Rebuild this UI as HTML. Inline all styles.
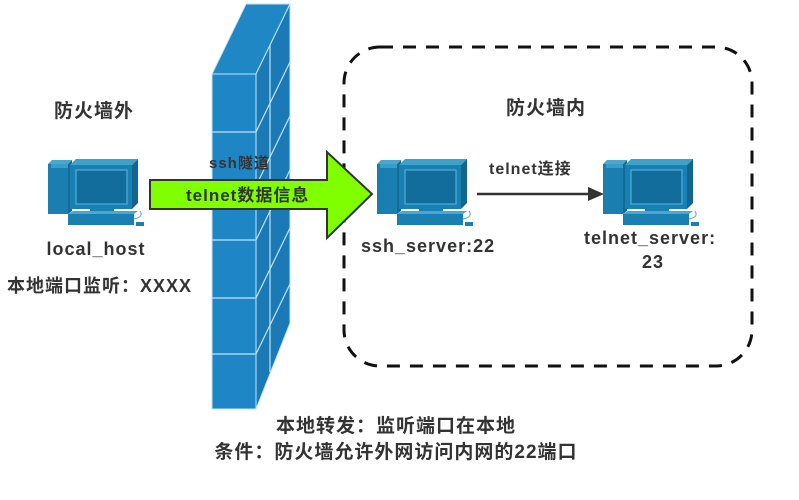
<!DOCTYPE html>
<html><head><meta charset="utf-8"><style>
body{margin:0;background:#fff;width:799px;height:500px;overflow:hidden}
svg{display:block}
text{font-family:"Liberation Sans","Noto Sans CJK SC",sans-serif;font-weight:bold;fill:#333;letter-spacing:1px}
</style></head><body>
<svg width="799" height="500" viewBox="0 0 799 500">
<defs>
<g id="pc">
  <rect x="0" y="5" width="20" height="50" fill="#1a7fb0"/>
  <rect x="3" y="5" width="17" height="4" fill="#3a9cc8"/>
  <polygon points="0,5 4,1 24,1 20,5" fill="#4aa8d0"/>
  <polygon points="20,5 24,1 24,52 20,55" fill="#126a96"/>
  <rect x="22" y="6" width="62" height="44" fill="#1a80b2"/>
  <polygon points="22,6 28,0 90,0 84,6" fill="#3ca2cc"/>
  <polygon points="84,6 90,0 90,44 84,50" fill="#11658f"/>
  <rect x="28" y="11" width="51" height="34" fill="#136d9c" stroke="#4cb0d8" stroke-width="1.2"/>
  <rect x="42" y="50" width="24" height="5" fill="#1a7fb0"/>
  <rect x="20" y="55" width="66" height="11" fill="#1a80b2"/>
  <polygon points="20,55 25,52 90,52 86,55" fill="#4aa8d0"/>
  <path d="M86,60 Q96,58 92,52" stroke="#4aa8d0" fill="none" stroke-width="1"/>
  <rect x="88" y="63" width="8" height="4" fill="#1a80b2"/>
</g>
</defs>

<rect x="344" y="47" width="408" height="319" rx="36" ry="36" fill="none" stroke="#111" stroke-width="3" stroke-dasharray="13,10"/>

<polygon points="212,74 256,74 290,4 246,4" fill="#1f87c4" stroke="#bfe4f7" stroke-width="1"/>
<polygon points="256,74 290,4 290,323 256,409" fill="#1b7ab5" stroke="#bfe4f7" stroke-width="1"/>
<rect x="212" y="74" width="44" height="335" fill="#1f86c6" stroke="#bfe4f7" stroke-width="1"/>
<g stroke="#bfe4f7" stroke-width="1.2" fill="none">
  <line x1="212" y1="132" x2="256" y2="132"/>
  <line x1="212" y1="186" x2="256" y2="186"/>
  <line x1="212" y1="240" x2="256" y2="240"/>
  <line x1="212" y1="298" x2="256" y2="298"/>
  <line x1="212" y1="354" x2="256" y2="354"/>
  <line x1="256" y1="132" x2="290" y2="62"/>
  <line x1="256" y1="186" x2="290" y2="116"/>
  <line x1="256" y1="240" x2="290" y2="170"/>
  <line x1="256" y1="298" x2="290" y2="228"/>
  <line x1="256" y1="354" x2="290" y2="284"/>
  <line x1="270" y1="45" x2="270" y2="372"/>
</g>

<polygon points="150,180 327,180 327,152 372,194 327,238 327,209 150,209" fill="#7fff00" stroke="#333" stroke-width="2"/>

<use href="#pc" x="48" y="159"/>
<use href="#pc" x="377" y="159"/>
<use href="#pc" x="603" y="159"/>

<line x1="477" y1="194" x2="592" y2="194" stroke="#333" stroke-width="2.5"/>
<polygon points="604,194 588,187 588,201" fill="#333"/>

<text x="54" y="117" font-size="19">防火墙外</text>
<text x="506" y="114" font-size="19">防火墙内</text>
<text x="96" y="255" font-size="18" text-anchor="middle">local_host</text>
<text x="7" y="292" font-size="18">本地端口监听：XXXX</text>
<text x="209" y="168" font-size="15">ssh隧道</text>
<text x="186" y="201" font-size="17">telnet数据信息</text>
<text x="489" y="174" font-size="16">telnet连接</text>
<text x="361" y="252" font-size="18">ssh_server:22</text>
<text x="584" y="244" font-size="18">telnet_server:</text>
<text x="653" y="268" font-size="18" text-anchor="middle">23</text>
<text x="396" y="432" font-size="19" text-anchor="middle">本地转发：监听端口在本地</text>
<text x="396" y="458" font-size="19" text-anchor="middle">条件：防火墙允许外网访问内网的22端口</text>
</svg>
</body></html>
